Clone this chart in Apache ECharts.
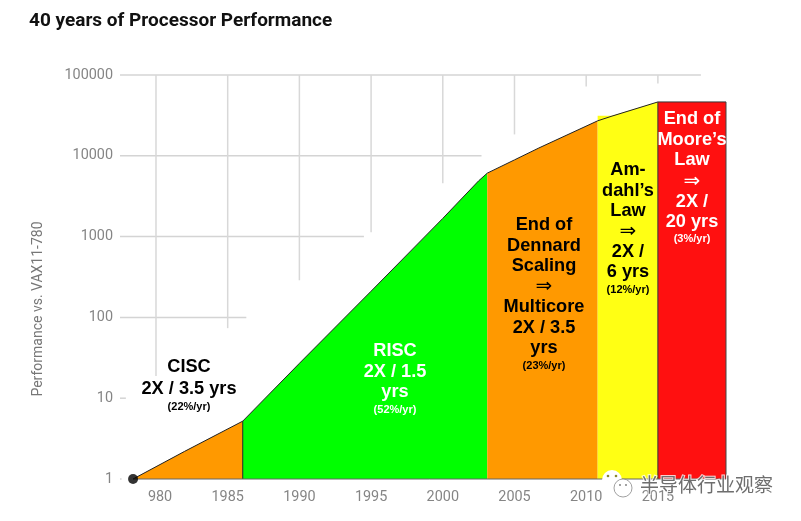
<!DOCTYPE html>
<html>
<head>
<meta charset="utf-8">
<title>40 years of Processor Performance</title>
<style>
    html, body {margin:0;padding:0;background:#fff;}
    #chart {width:801px;height:521px;}
</style>
<script src="https://cdn.jsdelivr.net/npm/echarts@6/dist/echarts.min.js"></script>
</head>
<body>
<div id="chart"></div>
<script>
    // axis labels
    var xTickYears = [1980, 1985, 1990, 1995, 2000, 2005, 2010, 2015];
    var yTickValues = [1, 10, 100, 1000, 10000, 100000];

    // performance curve, one array per era: [year, performance]
    var ciscCurve = [[1978.4, 1], [1982, 2.2], [1986.05, 5.2]];
    var riscCurve = [[1986.05, 5.2], [1990, 27], [1995, 211], [2000, 1680], [2002.5, 4900], [2003.1, 6100]];
    var dennardCurve = [[2003.1, 6100], [2005, 8900], [2006.7, 12500], [2010.8, 27100]];
    var amdahlCurve = [[2010.8, 27100], [2011.8, 31000], [2015, 46400]];
    var amdahlFill = [[2010.8, 31300], [2011.8, 31300], [2015, 46400]];
    var mooreFill = [[2015, 46400], [2019.75, 46400]];

    // grid lines only run as far as the picture shows them
    var hGridValues = [100000, 10000, 1000, 100, 10, 1];
    var hGridEnds = [2018.0, 2002.7, 1994.5, 1986.3, 1977.9, 1977.6];
    var vGridYears = [1980, 1985, 1990, 1995, 2000, 2005, 2010, 2015];
    var vGridEnds = [18.8, 73.6, 288, 1131, 4560, 18400, 72100, 78500];

    var xMin = 1977.49;
    var xMax = 2019.75;

    var chart = echarts.init(document.getElementById('chart'));

    function area(name, data, color) {
        return {
            name: name,
            type: 'line',
            data: data,
            showSymbol: false,
            clip: false,
            z: 3,
            lineStyle: {width: 0},
            itemStyle: {color: color},
            areaStyle: {color: color, opacity: 1, origin: 'start'}
        };
    }

    function thinLine(data, color, width, z) {
        return {
            type: 'line',
            data: data,
            showSymbol: false,
            silent: true,
            clip: false,
            z: z,
            itemStyle: {color: color},
            lineStyle: {color: color, width: width}
        };
    }

    var series = [];

    hGridValues.forEach(function (v, i) {
        series.push(thinLine([[xMin, v], [hGridEnds[i], v]], '#d4d4d4', 1.5, 1));
    });
    vGridYears.forEach(function (y, i) {
        series.push(thinLine([[y, 100000], [y, vGridEnds[i]]], '#d8d8d8', 1.5, 1));
    });

    series.push(area('CISC', ciscCurve, '#ff9900'));
    series.push(area('RISC', riscCurve, '#00ff00'));
    series.push(area('End of Dennard Scaling', dennardCurve, '#ff9900'));
    series.push(area("Amdahl's Law", amdahlFill, '#ffff14'));
    series.push(area("End of Moore's Law", mooreFill, '#ff1010'));

    // curve outline, era borders and base line
    series.push(thinLine(ciscCurve, '#222', 1, 5));
    series.push(thinLine(riscCurve, '#222', 1, 5));
    series.push(thinLine(dennardCurve, '#222', 1, 5));
    series.push(thinLine(amdahlCurve, '#222', 1, 5));
    series.push(thinLine(mooreFill, '#333', 1, 5));
    series.push(thinLine([[1986.05, 1], [1986.05, 5.2]], '#222', 1, 5));
    series.push(thinLine([[2015, 1], [2015, 46400]], '#333', 1, 5));
    series.push(thinLine([[2019.75, 1], [2019.75, 46400]], '#444', 1, 5));
    series.push(thinLine([[1978.4, 1], [2019.75, 1]], '#666', 1, 5));

    series.push({
        type: 'scatter',
        data: [ciscCurve[0]],
        symbolSize: 10,
        clip: false,
        z: 6,
        itemStyle: {color: '#000'}
    });

    // era captions
    var MAIN = 'bold 18.2px "Liberation Sans"';
    var SMALL = 'bold 11px "Liberation Sans"';

    function caption(x, y, text, font, color) {
        return {
            type: 'text',
            z: 50,
            silent: true,
            style: {x: x, y: y, text: text, font: font, fill: color, align: 'center', verticalAlign: 'middle'}
        };
    }

    function block(x, ys, lines, small, color) {
        var out = [];
        lines.forEach(function (t, i) {
            out.push(caption(x, ys[i], t, t === '⇒' ? '20px "DejaVu Sans"' : MAIN, color));
        });
        out.push(caption(x, ys[lines.length], small, SMALL, color));
        return out;
    }

    var graphics = [].concat(
        block(189, [367, 389, 407], ['CISC', '2X / 3.5 yrs'], '(22%/yr)', '#000'),
        block(395, [351, 372, 392, 410], ['RISC', '2X / 1.5', 'yrs'], '(52%/yr)', '#fff'),
        block(544, [225, 246, 266, 287, 307, 327.5, 348, 366],
            ['End of', 'Dennard', 'Scaling', '⇒', 'Multicore', '2X / 3.5', 'yrs'], '(23%/yr)', '#000'),
        block(628, [170, 191, 211, 232, 252, 272, 290],
            ['Am-', 'dahl’s', 'Law', '⇒', '2X /', '6 yrs'], '(12%/yr)', '#000'),
        block(692, [119, 140, 160, 182, 202, 222, 239],
            ['End of', 'Moore’s', 'Law', '⇒', '2X /', '20 yrs'], '(3%/yr)', '#fff')
    );

    // the "1" of 1980 is rubbed out in the source
    graphics.push({type: 'rect', z: 40, silent: true, shape: {x: 138, y: 486, width: 9, height: 20}, style: {fill: '#fff'}});

    // watermark
    graphics.push({type: 'circle', z: 60, silent: true, shape: {cx: 612, cy: 480, r: 10}, style: {fill: '#fff'}});
    graphics.push({type: 'circle', z: 61, silent: true, shape: {cx: 608, cy: 476, r: 1.3}, style: {fill: '#8a8a30'}});
    graphics.push({type: 'circle', z: 61, silent: true, shape: {cx: 616, cy: 476, r: 1.3}, style: {fill: '#8a8a30'}});
    graphics.push({type: 'circle', z: 62, silent: true, shape: {cx: 623, cy: 488, r: 9}, style: {fill: '#fff', stroke: '#888', lineWidth: 0.8}});
    graphics.push({type: 'circle', z: 63, silent: true, shape: {cx: 620, cy: 485, r: 0.9}, style: {fill: '#777'}});
    graphics.push({type: 'circle', z: 63, silent: true, shape: {cx: 626, cy: 485, r: 0.9}, style: {fill: '#777'}});
    graphics.push({
        type: 'text',
        z: 64,
        silent: true,
        style: {
            x: 640, y: 485, text: '半导体行业观察',
            font: '19px "Noto Sans CJK SC"', fill: '#6e6e6e',
            stroke: 'rgba(255,255,255,0.8)', lineWidth: 2,
            verticalAlign: 'middle'
        }
    });

    var option = {
        animation: false,
        backgroundColor: '#fff',
        title: {
            text: '40 years of Processor Performance',
            left: 24,
            top: 7,
            textStyle: {fontFamily: 'Roboto', fontWeight: 'bold', fontSize: 19, color: '#111'}
        },
        grid: {left: 120, right: 75, top: 75, bottom: 42},
        xAxis: {
            type: 'value',
            min: xMin,
            max: xMax,
            axisLine: {show: false},
            axisTick: {show: false},
            splitLine: {show: false},
            axisLabel: {
                customValues: xTickYears,
                margin: 11,
                color: '#858585',
                fontFamily: 'Roboto',
                fontSize: 14.4,
                formatter: function (v) { return String(v); }
            }
        },
        yAxis: {
            type: 'log',
            logBase: 10,
            min: 1,
            max: 100000,
            name: 'Performance vs. VAX11-780',
            nameLocation: 'middle',
            nameGap: 75,
            nameTextStyle: {fontFamily: 'Roboto', fontSize: 14, color: '#777', padding: [0, 64, 0, 0]},
            axisLine: {show: false},
            axisTick: {show: false},
            splitLine: {show: false},
            minorSplitLine: {show: false},
            axisLabel: {
                customValues: yTickValues,
                margin: 7,
                color: '#858585',
                fontFamily: 'Roboto',
                fontSize: 14.4,
                formatter: function (v) { return String(Math.round(v)); }
            }
        },
        series: series,
        graphic: {elements: graphics}
    };

    chart.setOption(option);
</script>
</body>
</html>
